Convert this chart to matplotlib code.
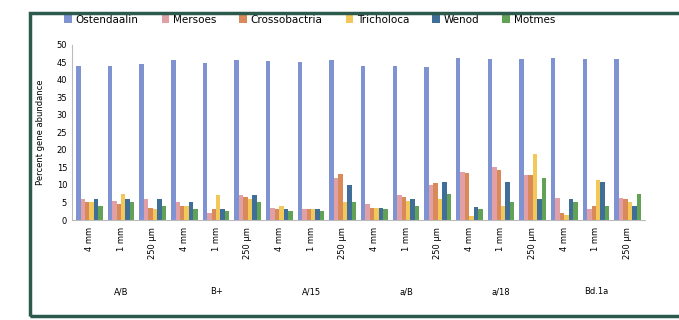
import numpy as np
import matplotlib
matplotlib.use("Agg")
import matplotlib.pyplot as plt
from matplotlib.patches import Rectangle

# data (values are estimates)
series_names = ["Ostendaalin", "Mersoes", "Crossobactria", "Tricholoca", "Wenod", "Motmes"]
size_labels = ["4 mm", "1 mm", "250 \u03bcm"]
group_labels = ["A/B", "B+", "A/15", "a/B", "a/18", "Bd.1a"]

ostendaalin = [44.0, 44.0, 44.5, 45.5, 44.8, 45.5, 45.3, 45.0, 45.5,
               44.0, 43.8, 43.5, 46.2, 46.0, 46.0, 46.2, 46.0, 46.0]
mersoes = [6.0, 5.5, 6.0, 5.0, 2.0, 7.0, 3.5, 3.0, 12.0,
           4.5, 7.0, 10.0, 13.8, 15.2, 12.8, 6.3, 3.0, 6.3]
crossobactria = [5.0, 4.5, 3.5, 4.0, 3.0, 6.5, 3.0, 3.0, 13.0,
                 3.5, 6.5, 10.5, 13.5, 14.3, 12.8, 2.0, 4.0, 6.0]
tricholoca = [5.0, 7.5, 3.0, 4.0, 7.0, 6.0, 4.0, 3.0, 5.0,
              3.5, 5.5, 6.0, 1.0, 4.0, 18.8, 1.5, 11.3, 5.0]
wenod = [6.0, 6.0, 6.0, 5.0, 3.0, 7.0, 3.0, 3.0, 10.0,
         3.5, 6.0, 10.8, 3.7, 10.8, 6.0, 6.0, 10.8, 4.0]
motmes = [4.0, 5.0, 4.0, 3.0, 2.5, 5.0, 2.5, 2.5, 5.0,
          3.0, 4.0, 7.5, 3.0, 5.0, 12.0, 5.0, 4.0, 7.5]

values = [ostendaalin, mersoes, crossobactria, tricholoca, wenod, motmes]
colors = ["#7f92d2", "#e0a0a6", "#d98a58", "#f2c85a", "#3f6e98", "#62a256"]

cats = [size_labels[i % 3] for i in range(len(ostendaalin))]
x = np.arange(len(cats))
w = 0.14

fig = plt.figure(figsize=(6.79, 3.2), dpi=100)
fig.patch.set_facecolor("white")

# frame around the chart
fig.patches.append(Rectangle((30 / 679, 4 / 320), 660 / 679, 303 / 320,
                             transform=fig.transFigure, fill=False,
                             edgecolor="#2c5a4c", linewidth=2.5))

ax = fig.add_axes([0.106, 0.3125, 0.844, 0.548])
for i, (name, vals) in enumerate(zip(series_names, values)):
    ax.bar(x - 0.35 + i * w, vals, w, color=colors[i], label=name)

ax.set_ylim(0, 50)
ax.set_yticks(np.arange(0, 51, 5))
ax.set_xlim(-0.55, len(cats) - 0.45)
ax.set_xticks(x)
ax.set_xticklabels(cats, rotation=90, fontsize=6)
ax.tick_params(axis="y", labelsize=6, length=0)
ax.tick_params(axis="x", length=0, pad=5)
ax.set_ylabel("Percent gene abundance", fontsize=6, labelpad=8)
for s in ["top", "right"]:
    ax.spines[s].set_visible(False)
ax.spines["left"].set_color("#bbbbbb")
ax.spines["bottom"].set_color("#bbbbbb")

for g, lab in enumerate(group_labels):
    ax.text(g * 3 + 1, -0.41, lab, transform=ax.get_xaxis_transform(),
            ha="center", va="center", fontsize=6)

ax.legend(loc="lower center", bbox_to_anchor=(0.415, 1.06), ncol=6, frameon=False,
          fontsize=7.5, handlelength=0.7, handleheight=0.7, columnspacing=2.2,
          handletextpad=0.4)

fig.savefig("out.png", dpi=100)
